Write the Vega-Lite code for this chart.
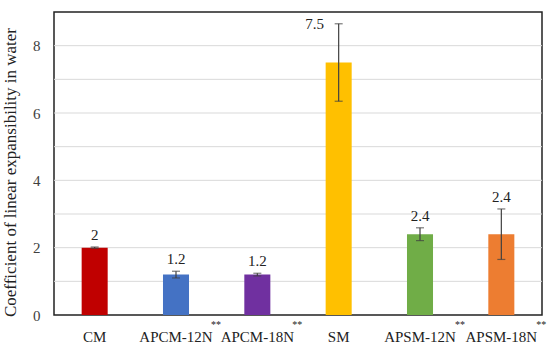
{
  "$schema": "https://vega.github.io/schema/vega-lite/v6.json",
  "width": 488,
  "height": 303,
  "autosize": {"type": "none"},
  "padding": {"left": 54, "top": 12, "right": 8, "bottom": 33},
  "background": "white",
  "config": {
    "font": "Liberation Serif",
    "view": {"stroke": "#222222", "strokeWidth": 1.5},
    "axis": {"labelFont": "Liberation Serif", "titleFont": "Liberation Serif", "labelColor": "#404040", "titleColor": "#222222"},
    "axisY": {"labelOverlap": false, "labelFlush": false, "tickCount": 9, "ticks": false, "domain": false, "grid": false, "labelFontSize": 15, "labelPadding": 14, "titleFontSize": 17, "titleFontWeight": "normal", "titlePadding": 13}
  },
  "layer": [
    {
      "data": {"values": [{"t": 1}, {"t": 2}, {"t": 3}, {"t": 4}, {"t": 5}, {"t": 6}, {"t": 7}, {"t": 8}]},
      "mark": {"type": "rule", "color": "#d9d9d9", "strokeWidth": 1},
      "encoding": {
        "y": {"field": "t", "type": "quantitative", "scale": {"domain": [0, 9], "nice": false}, "axis": {"title": "Coefficient of linear expansibility  in water", "values": [0,1,2,3,4,5,6,7,8,9], "titleY": 160}}
      }
    },
    {
      "data": {
        "values": [
          {"cat": "CM", "star": "", "value": 2.0, "err": 0.02, "text": "2", "color": "#C00000"},
          {"cat": "APCM-12N", "star": "**", "value": 1.2, "err": 0.1, "text": "1.2", "color": "#4472C4"},
          {"cat": "APCM-18N", "star": "**", "value": 1.2, "err": 0.04, "text": "1.2", "color": "#7030A0"},
          {"cat": "SM", "star": "", "value": 7.5, "err": 1.15, "text": "7.5", "color": "#FFC000"},
          {"cat": "APSM-12N", "star": "**", "value": 2.4, "err": 0.19, "text": "2.4", "color": "#70AD47"},
          {"cat": "APSM-18N", "star": "**", "value": 2.4, "err": 0.75, "text": "2.4", "color": "#ED7D31"}
        ]
      },
      "transform": [
        {"calculate": "datum.value - datum.err", "as": "lo"},
        {"calculate": "datum.value + datum.err", "as": "hi"},
        {"calculate": "0", "as": "zero"}
      ],
      "encoding": {
        "x": {
          "field": "cat",
          "type": "nominal",
          "sort": null,
          "scale": {"paddingInner": 0.68, "paddingOuter": 0.34},
          "axis": {"title": null, "labelAngle": 0, "labelFontSize": 15, "labelColor": "#222222", "ticks": false, "domain": false, "grid": false, "labelPadding": 14, "labelOverlap": false}
        }
      },
      "layer": [
        {
          "mark": {"type": "bar"},
          "encoding": {
            "y": {"field": "value", "type": "quantitative"},
            "color": {"field": "color", "type": "nominal", "scale": null, "legend": null}
          }
        },
        {
          "mark": {"type": "rule", "color": "#404040", "strokeWidth": 1.2},
          "encoding": {
            "y": {"field": "lo", "type": "quantitative"},
            "y2": {"field": "hi"}
          }
        },
        {
          "mark": {"type": "tick", "color": "#404040", "size": 8, "thickness": 1.2},
          "encoding": {"y": {"field": "lo", "type": "quantitative"}}
        },
        {
          "mark": {"type": "tick", "color": "#404040", "size": 8, "thickness": 1.2},
          "encoding": {"y": {"field": "hi", "type": "quantitative"}}
        },
        {
          "mark": {"type": "text", "fontSize": 15, "color": "#222222", "baseline": "alphabetic", "dy": {"expr": "datum.cat === 'SM' ? 5 : -7"}, "dx": {"expr": "datum.cat === 'SM' ? -24 : 0"}},
          "encoding": {
            "y": {"field": "hi", "type": "quantitative"},
            "text": {"field": "text"}
          }
        },
        {
          "mark": {"type": "text", "fontSize": 10, "color": "#222222", "align": "left", "baseline": "middle", "dx": 35, "dy": 10},
          "encoding": {
            "y": {"field": "zero", "type": "quantitative"},
            "text": {"field": "star"}
          }
        }
      ]
    }
  ]
}
